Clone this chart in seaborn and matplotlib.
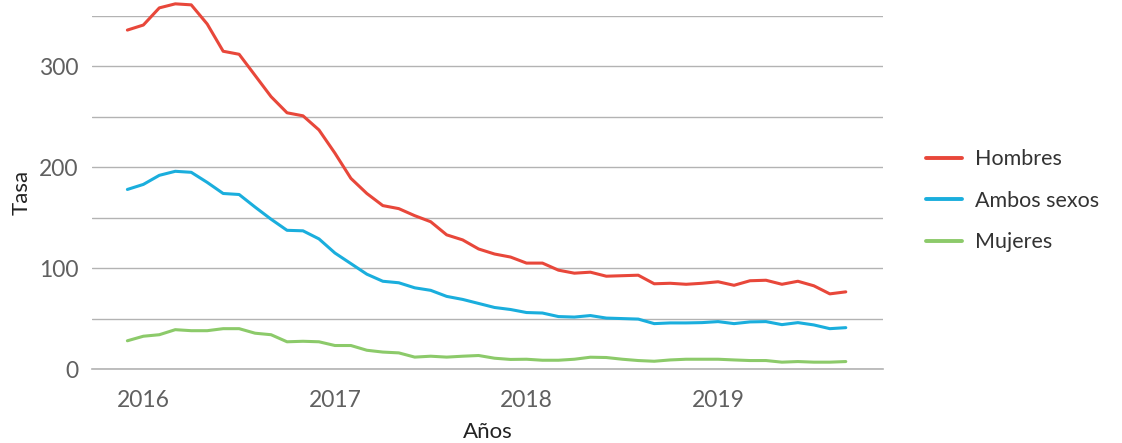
import numpy as np
import pandas as pd
import matplotlib
matplotlib.use("Agg")
import matplotlib.pyplot as plt
import seaborn as sns

# --- data: monthly rates, Dec 2015 .. Sep 2019 ---
meses = np.arange(-1, 45)  # months relative to Jan 2016
hombres = [336, 341, 358, 362, 361, 342, 315, 312, 291, 270, 254, 251, 237,
           214, 189, 174, 162, 159, 152, 146, 133, 128, 119, 114, 111,
           105, 105, 98, 95, 96, 92, 92.5, 93, 84.5, 85, 84, 85,
           86.5, 83, 87.5, 88, 84, 87, 82.5, 74.5, 76.5]
ambos = [178, 183, 192, 196, 195, 185, 174, 173, 160.5, 148.5, 137.5, 137, 129,
         115, 104.5, 94, 87, 85.5, 80.5, 78, 72, 69, 65, 61, 59,
         56, 55.5, 52, 51.5, 53, 50.5, 50, 49.5, 45, 45.7, 45.7, 46,
         47, 45, 46.7, 47, 44, 46, 43.7, 40, 41]
mujeres = [28, 32.5, 34, 39, 38, 38, 40, 40, 35.5, 34, 27, 27.5, 27,
           23.3, 23.3, 18.6, 16.8, 16, 11.8, 12.7, 11.8, 12.7, 13.4, 10.7, 9.5,
           9.7, 8.7, 8.7, 9.7, 11.7, 11.4, 9.7, 8.4, 7.7, 9, 9.7, 9.7,
           9.7, 9, 8.4, 8.4, 6.8, 7.4, 6.8, 6.8, 7.4]
series = ["Hombres", "Ambos sexos", "Mujeres"]
colores = ["#E8473A", "#1AAEDD", "#8CCA6A"]
years = [2016, 2017, 2018, 2019]

anio = 2016 + meses / 12
df = pd.DataFrame({
    "anio": np.tile(anio, 3),
    "tasa": hombres + ambos + mujeres,
    "serie": np.repeat(series, len(meses)),
})

sns.set_style("white")
plt.rcParams["font.family"] = ["Lato", "DejaVu Sans"]

fig = plt.figure(figsize=(11.22, 4.43), dpi=100)
ax = fig.add_axes([0.082, 0.167, 0.705, 0.797])

sns.lineplot(data=df, x="anio", y="tasa", hue="serie", hue_order=series,
             palette=colores, linewidth=2.2, ax=ax)
for ln in ax.lines:
    ln.set_clip_on(False)

ax.set_ylim(0, 350)
ax.set_xlim(2015.732, 2019.861)
ax.set_yticks([0, 100, 200, 300])
ax.set_yticks([50, 150, 250, 350], minor=True)
ax.set_xticks(years)
ax.set_xticklabels([str(y) for y in years])
ax.grid(axis="y", which="both", color="#b3b3b3", linewidth=1)
ax.set_axisbelow(True)
for s in ax.spines.values():
    s.set_visible(False)
ax.spines["bottom"].set_visible(True)
ax.spines["bottom"].set_color("#b3b3b3")
ax.spines["bottom"].set_linewidth(1.2)
ax.tick_params(axis="y", which="both", length=0, pad=10, labelsize=16.5,
               labelcolor="#606060")
ax.tick_params(axis="x", length=7, width=1, color="#b3b3b3", pad=8,
               labelsize=16.5, labelcolor="#606060")

ax.set_xlabel("Años", fontsize=16, color="#222222", labelpad=8)
ax.set_ylabel("Tasa", fontsize=16, color="#222222", labelpad=5)

leg = ax.legend(loc="center left", bbox_to_anchor=(1.03, 0.476), frameon=False,
                fontsize=15.5, handlelength=1.65, handletextpad=0.6,
                labelspacing=1.0)
for t in leg.get_texts():
    t.set_color("#333333")
for h in leg.get_lines():
    h.set_linewidth(2.8)

fig.savefig("out.png", dpi=100)
